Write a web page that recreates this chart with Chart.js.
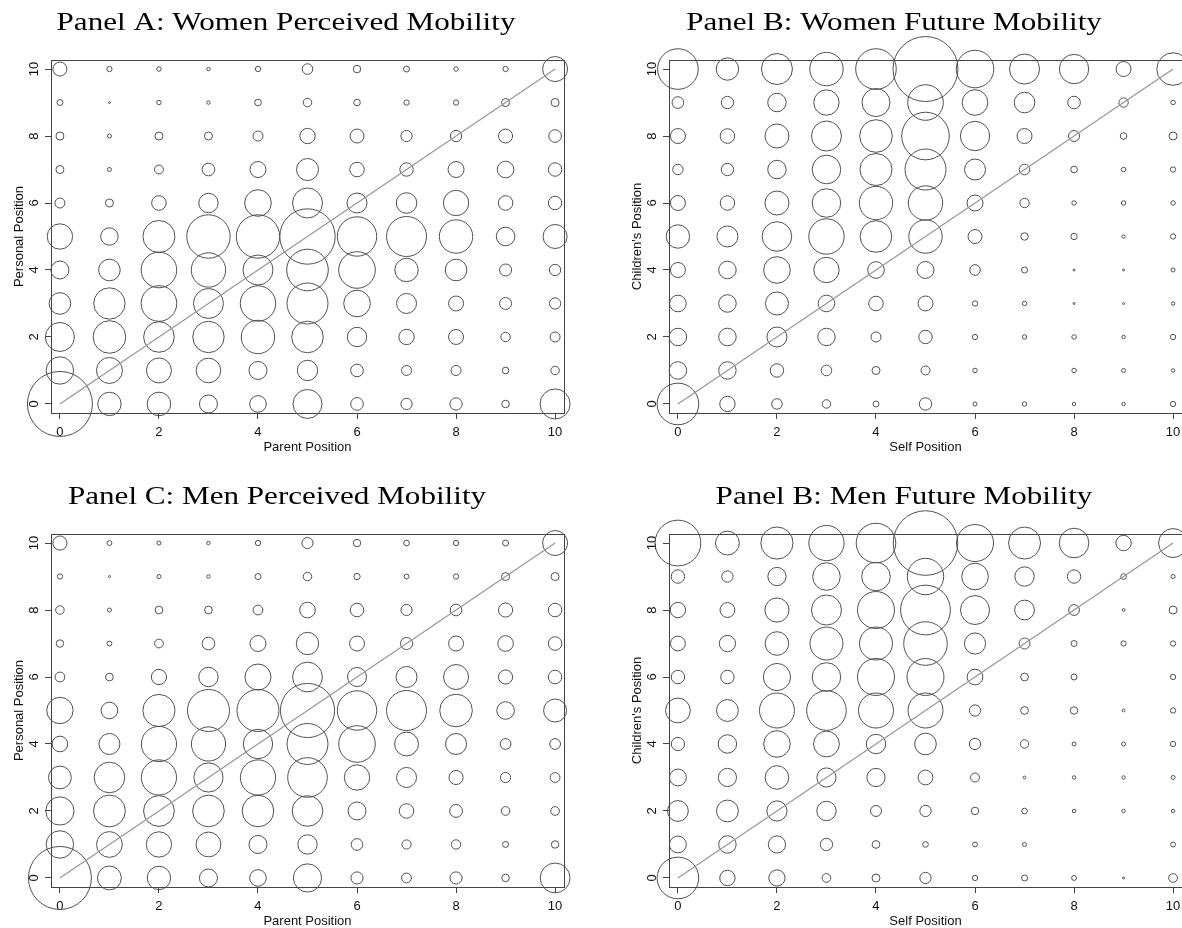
<!DOCTYPE html>
<html>
<head>
<meta charset="utf-8">
<script src="https://cdn.jsdelivr.net/npm/chart.js@4.4.1/dist/chart.umd.min.js"></script>
<style>
  html, body { margin: 0; padding: 0; background: #fff; overflow: hidden; }
  body { width: 1182px; height: 928px; position: relative; }
  .panel { position: absolute; width: 580px; height: 464px; }
</style>
</head>
<body>
<div class="panel" style="left:0;top:0"><canvas id="panelA"></canvas></div>
<div class="panel" style="left:618px;top:0"><canvas id="panelB"></canvas></div>
<div class="panel" style="left:0;top:474px"><canvas id="panelC"></canvas></div>
<div class="panel" style="left:618px;top:474px"><canvas id="panelD"></canvas></div>
<script>
const positions = [0, 1, 2, 3, 4, 5, 6, 7, 8, 9, 10];
const tickValues = [0, 2, 4, 6, 8, 10];

// respondent counts per cell; rows go from position 10 (top) down to 0, columns 0..10
const womenPerceived = [
  [49, 7, 5, 3, 7, 28, 14, 9, 5, 7, 156],
  [9, 1, 5, 3, 11, 18, 11, 7, 7, 16, 16],
  [16, 4, 16, 16, 25, 59, 49, 32, 32, 49, 40],
  [16, 4, 20, 40, 64, 121, 53, 45, 64, 69, 45],
  [25, 16, 53, 94, 177, 225, 100, 106, 161, 53, 45],
  [161, 76, 256, 471, 471, 767, 388, 400, 279, 86, 144],
  [81, 117, 317, 296, 225, 433, 335, 137, 117, 36, 32],
  [117, 246, 317, 225, 313, 420, 177, 100, 56, 36, 32],
  [210, 266, 234, 246, 279, 250, 94, 59, 56, 22, 25],
  [188, 169, 156, 151, 81, 104, 40, 25, 25, 11, 18],
  [1056, 137, 139, 81, 69, 210, 40, 32, 38, 14, 225]
];

const womenFuture = [
  [412, 125, 240, 279, 412, 1056, 353, 225, 216, 56, 265],
  [34, 38, 85, 161, 196, 317, 164, 106, 40, 22, 5],
  [56, 53, 144, 225, 266, 566, 216, 56, 30, 11, 16],
  [27, 38, 85, 204, 256, 420, 110, 28, 11, 5, 7],
  [56, 52, 144, 204, 279, 296, 64, 22, 5, 5, 5],
  [137, 110, 219, 313, 250, 279, 49, 14, 10, 3, 7],
  [56, 77, 177, 161, 69, 72, 28, 9, 1, 1, 4],
  [69, 77, 132, 69, 53, 56, 7, 5, 1, 1, 3],
  [76, 77, 100, 76, 25, 45, 7, 5, 5, 3, 7],
  [77, 76, 45, 28, 16, 20, 5, 0, 5, 4, 3],
  [433, 59, 28, 18, 9, 38, 4, 5, 3, 3, 7]
];

const menPerceived = [
  [50, 6, 4, 3, 7, 31, 14, 8, 7, 9, 156],
  [7, 1, 4, 3, 9, 18, 10, 6, 7, 16, 16],
  [18, 4, 15, 15, 24, 61, 46, 31, 34, 50, 46],
  [14, 6, 19, 40, 64, 125, 56, 37, 56, 61, 46],
  [24, 15, 58, 94, 169, 222, 90, 110, 156, 50, 46],
  [174, 69, 259, 441, 441, 734, 388, 400, 266, 77, 132],
  [61, 110, 310, 292, 216, 420, 335, 142, 110, 29, 29],
  [130, 234, 310, 213, 310, 392, 161, 100, 50, 26, 24],
  [199, 253, 237, 250, 250, 234, 81, 53, 41, 19, 19],
  [188, 166, 161, 154, 81, 94, 34, 21, 22, 9, 14],
  [992, 142, 137, 81, 69, 199, 37, 24, 37, 14, 222]
];

const menFuture = [
  [524, 142, 259, 310, 392, 1043, 342, 256, 219, 59, 210],
  [45, 32, 83, 190, 204, 331, 177, 94, 45, 8, 4],
  [59, 55, 146, 225, 342, 620, 210, 98, 29, 2, 16],
  [55, 66, 139, 272, 272, 475, 112, 30, 9, 7, 7],
  [45, 45, 185, 204, 342, 342, 62, 15, 9, 0, 7],
  [154, 119, 306, 392, 306, 306, 32, 15, 14, 2, 7],
  [44, 85, 177, 166, 94, 117, 32, 18, 4, 4, 7],
  [71, 83, 139, 92, 83, 55, 20, 2, 3, 3, 4],
  [108, 119, 102, 94, 30, 32, 14, 8, 3, 3, 3],
  [71, 76, 74, 38, 15, 8, 6, 4, 0, 0, 6],
  [433, 59, 66, 19, 16, 32, 7, 9, 6, 1, 19]
];

const panelTitles = [
  "Panel A: Women Perceived Mobility",
  "Panel B: Women Future Mobility",
  "Panel C: Men Perceived Mobility",
  "Panel B: Men Future Mobility"
];

Chart.defaults.font.family = '"Liberation Sans", Arial, sans-serif';
Chart.defaults.color = '#111';

const axisGray = 'rgb(68,68,68)';
const markGray = 'rgb(80,80,80)';
const diagGray = 'rgb(150,150,150)';

// panel heading; the original uses a wide LaTeX-style serif, so stretch it a bit
const panelTitle = {
  id: 'panelTitle',
  afterDraw(chart, args, opts) {
    const ctx = chart.ctx;
    ctx.save();
    ctx.translate(opts.x, 23);
    ctx.scale(1.22, 1);
    ctx.font = '25.5px "Liberation Serif", "DejaVu Serif", serif';
    ctx.fillStyle = '#000';
    ctx.textAlign = 'center';
    ctx.textBaseline = 'middle';
    ctx.fillText(opts.text, 0, 0);
    ctx.restore();
  }
};

// box round the plot region
const frame = {
  id: 'frame',
  beforeDatasetsDraw(chart) {
    const {left, top, right, bottom} = chart.chartArea;
    const ctx = chart.ctx;
    ctx.save();
    ctx.strokeStyle = axisGray;
    ctx.lineWidth = 1;
    ctx.strokeRect(Math.round(left) + 0.5, Math.round(top) + 0.5,
                   Math.round(right - left), Math.round(bottom - top));
    ctx.restore();
  }
};

function bubblePoints(counts) {
  const pts = [];
  counts.forEach((row, i) => {
    row.forEach((n, j) => {
      if (n > 0) pts.push({x: positions[j], y: positions[10 - i], r: Math.sqrt(n)});
    });
  });
  return pts;
}

function makePanel(id, counts, title, titleX, xTitle, yTitle) {
  const ctx = document.getElementById(id).getContext('2d');
  new Chart(ctx, {
    type: 'bubble',
    data: {
      datasets: [{
        type: 'line',
        data: [{x: 0, y: 0}, {x: 10, y: 10}],
        borderColor: diagGray,
        borderWidth: 1.2,
        pointRadius: 0,
        clip: false
      }, {
        data: bubblePoints(counts),
        backgroundColor: 'rgba(0,0,0,0)',
        borderColor: markGray,
        borderWidth: 1,
        hoverRadius: 0,
        clip: false
      }]
    },
    options: {
      responsive: true,
      maintainAspectRatio: false,
      animation: false,
      events: [],
      layout: { autoPadding: false, padding: { top: 60, right: 16, left: 0, bottom: 0 } },
      plugins: {
        legend: { display: false },
        tooltip: { enabled: false },
        panelTitle: { text: title, x: titleX }
      },
      scales: {
        x: {
          type: 'linear',
          min: -0.18,
          max: 10.18,
          afterBuildTicks: s => { s.ticks = tickValues.map(v => ({value: v})); },
          afterFit: s => { s.height = 51; },
          border: { display: false },
          grid: { display: true, drawOnChartArea: false, drawTicks: true, tickLength: 6, color: axisGray },
          ticks: { font: { size: 13 }, padding: 6, minRotation: 0, maxRotation: 0 },
          title: { display: true, text: xTitle, font: { size: 13 }, padding: { top: 0, bottom: 9 } }
        },
        y: {
          type: 'linear',
          min: -0.27,
          max: 10.27,
          afterBuildTicks: s => { s.ticks = tickValues.map(v => ({value: v})); },
          afterFit: s => { s.width = 51; },
          border: { display: false },
          grid: { display: true, drawOnChartArea: false, drawTicks: true, tickLength: 6, color: axisGray },
          ticks: { font: { size: 13 }, padding: 3, minRotation: 90, maxRotation: 90, crossAlign: 'center' },
          title: { display: true, text: yTitle, font: { size: 13 }, padding: { top: 12, bottom: 0 } }
        }
      }
    },
    plugins: [frame, panelTitle]
  });
}

makePanel('panelA', womenPerceived, panelTitles[0], 286, 'Parent Position', 'Personal Position');
makePanel('panelB', womenFuture, panelTitles[1], 276, 'Self Position', "Children's Position");
makePanel('panelC', menPerceived, panelTitles[2], 277, 'Parent Position', 'Personal Position');
makePanel('panelD', menFuture, panelTitles[3], 286, 'Self Position', "Children's Position");
</script>
</body>
</html>
